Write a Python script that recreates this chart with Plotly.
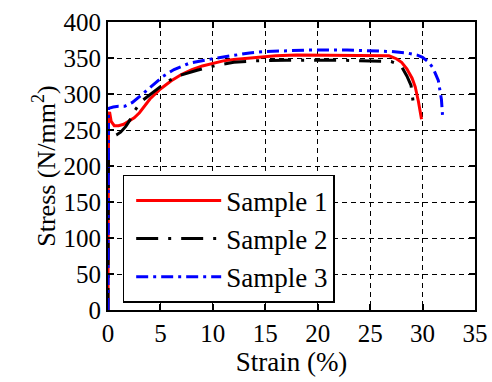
import plotly.graph_objects as go

# ---- data ----
s1_strain = [0, 0.05, 0.15, 0.3, 0.6, 1.0, 1.5, 2.0, 2.5, 3.0, 3.5, 4.0, 5.0, 6.0, 7.0, 8.0, 9.0, 10, 11, 12, 14, 16, 18, 20, 22, 24, 25, 26, 26.8, 27.5, 28, 28.5, 29, 29.3, 29.6, 29.9]
s1_stress = [0, 270, 275, 262, 256, 256, 258, 262, 267, 274, 284, 293, 307, 318, 327, 334, 339, 343, 346, 348, 351, 353, 354, 354, 354, 354, 354, 354, 353, 349, 344, 335, 322, 310, 290, 265]

s2_strain = [0, 0.05, 0.3, 0.8, 1.2, 1.7, 2.1, 2.6, 3.2, 4.0, 4.8, 5.6, 6.9, 8.5, 10.4, 12, 14, 17, 22, 26, 27, 27.6, 28, 28.5, 28.9, 29.1]
s2_stress = [0, 238, 240, 243, 247, 255, 264, 278, 290, 299, 308, 317, 326, 333, 340, 344, 346, 347, 347, 346, 345, 342, 338, 325, 312, 289]

s3_strain = [0, 0.05, 0.5, 1.0, 1.6, 2.3, 3.3, 4.2, 5.2, 6.3, 7.8, 10.4, 12, 13.5, 15, 16.4, 19, 22.8, 25, 27, 28.5, 29.5, 30, 30.6, 31, 31.5, 31.8, 31.9]
s3_stress = [0, 280, 282, 283, 283, 288, 300, 312, 324, 334, 343, 350, 354, 357, 359, 360, 361, 361, 360, 359, 357, 354, 351, 344, 336, 319, 292, 271]

names = ["Sample 1", "Sample 2", "Sample 3"]
x_ticks = [0, 5, 10, 15, 20, 25, 30, 35]
y_ticks = [0, 50, 100, 150, 200, 250, 300, 350, 400]

FONT = "Liberation Serif"

fig = go.Figure()
fig.add_trace(go.Scatter(x=s1_strain, y=s1_stress, mode="lines", name=names[0],
                         line=dict(color="#ff0000", width=3)))
fig.add_trace(go.Scatter(x=s2_strain, y=s2_stress, mode="lines", name=names[1],
                         line=dict(color="#000000", width=3, dash="22px,10px,3px,10px")))
fig.add_trace(go.Scatter(x=s3_strain, y=s3_stress, mode="lines", name=names[2],
                         line=dict(color="#0000ff", width=3, dash="12px,5px,3px,5px")))

axis_common = dict(
    showline=True, linecolor="black", linewidth=2, mirror="ticks",
    ticks="inside", ticklen=6, tickwidth=1.5, tickcolor="black",
    showgrid=True, gridcolor="black", gridwidth=1, griddash="5px,4px",
    zeroline=False, automargin=False,
    tickfont=dict(family=FONT, size=25, color="black"),
)

fig.update_layout(
    width=492, height=382,
    margin=dict(l=108, r=17, t=22, b=72),
    paper_bgcolor="white", plot_bgcolor="white",
    font=dict(family=FONT, color="black"),
    xaxis=dict(range=[0, 35], tickvals=x_ticks,
               title=dict(text="Strain (%)", font=dict(family=FONT, size=27, color="black"), standoff=4),
               **axis_common),
    yaxis=dict(range=[0, 400], tickvals=y_ticks,
               title=dict(text="Stress (N/mm<sup>2</sup>)", font=dict(family=FONT, size=26, color="black"), standoff=0),
               **axis_common),
    legend=dict(x=0.04, y=0.469, xanchor="left", yanchor="top",
                bordercolor="black", borderwidth=1.5, bgcolor="white",
                font=dict(family=FONT, size=27, color="black"),
                itemwidth=85, tracegroupgap=0, indentation=7,
                entrywidth=214, entrywidthmode="pixels"),
    showlegend=True,
)

fig.write_html("out.html", config={"displayModeBar": False},
               post_script="document.body.style.margin='0';")
